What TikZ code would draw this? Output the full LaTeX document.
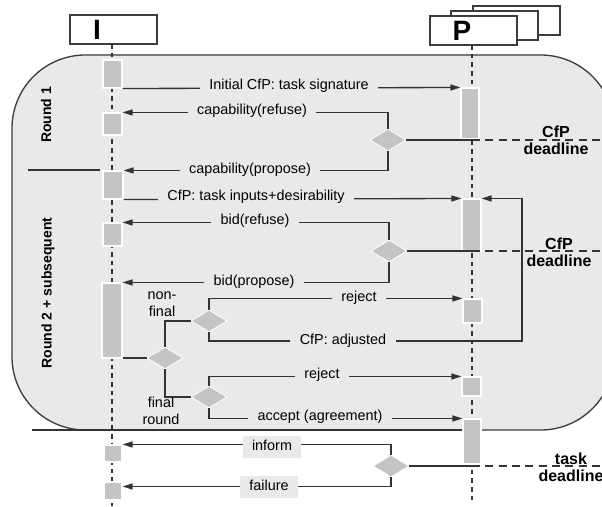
\documentclass[tikz,border=0pt]{standalone}
\usepackage{fontspec}
\setmainfont{Liberation Sans}
\usetikzlibrary{arrows.meta,shapes.geometric,fit}
\definecolor{bgc}{HTML}{E9E9E9}
\definecolor{linec}{HTML}{333333}
\definecolor{actc}{HTML}{C4C4C4}
\definecolor{borderc}{HTML}{3C3C3C}
\begin{document}
\begin{tikzpicture}[x=0.75pt,y=-0.75pt,
  roundbox/.style={draw=borderc, line width=1pt, fill=bgc, rounded corners=55pt, inner sep=0pt},
  headbox/.style={draw=borderc, line width=1pt, fill=white, inner sep=0pt},
  headtxt/.style={font=\bfseries\fontsize{21}{21}\selectfont, inner sep=0pt},
  life/.style={draw=linec, line width=0.8pt, dash pattern=on 3.5pt off 3pt},
  act/.style={draw=white, line width=0.8pt, fill=actc, inner sep=0pt},
  dec/.style={diamond, draw=white, line width=0.6pt, fill=actc, inner sep=0pt, minimum width=27pt, minimum height=16.5pt},
  flow/.style={draw=linec, line width=1pt},
  msg/.style={flow, -{Triangle[length=7.5pt,width=4.5pt]}},
  ddl/.style={draw=linec, line width=1pt, dash pattern=on 6pt off 4pt},
  lbl/.style={fill=bgc, inner xsep=7pt, inner ysep=3pt, text height=8pt, text depth=2.5pt, font=\fontsize{10.8}{12}\selectfont},
  note/.style={align=center, inner sep=0pt, font=\fontsize{10.8}{12.75}\selectfont},
  ddltxt/.style={align=center, inner sep=0pt, font=\bfseries\fontsize{12}{12.75}\selectfont},
  roundtxt/.style={rotate=90, inner sep=0pt, font=\bfseries\fontsize{10.5}{12}\selectfont}
]
\useasboundingbox (0,0) rectangle (602,506);
% rounds area
\node[roundbox, fit={(12,55) (614,430)}] (rounds) {};
\coordinate (sepA) at (28,170);
\coordinate (sepB) at (32,430);
\coordinate (R) at (602,0);
% heads
\node[headbox, fit={(70,15) (157,44)}] (Ibox) {};
\node[headtxt] (Ilbl) at (97,30) {I};
\node[headbox, fit={(473,6) (560,35)}] (P3) {};
\node[headbox, fit={(451,11) (538,40)}] (P2) {};
\node[headbox, fit={(430,16) (517,45)}] (P1) {};
\node[headtxt] (Plbl) at (462,31) {P};
% lifelines
\coordinate (Itop) at (112,44); \coordinate (Ibot) at (112,506);
\coordinate (Ptop) at (472,45); \coordinate (Pbot) at (472,500);
\draw[life] (Itop) -- (Ibot);
\draw[life] (Ptop) -- (Pbot);
% separators
\draw[flow] (sepA) -- (sepA -| 100,0);
\draw[flow] (sepB) -- (sepB -| Ptop);
% activations on I
\node[act, fit={(103,60) (122,88)}] (a1) {};
\node[act, fit={(103,113) (122,135)}] (a2) {};
\node[act, fit={(103,171) (123,199)}] (a3) {};
\node[act, fit={(103,223) (122,246)}] (a4) {};
\node[act, fit={(102,283) (122,358)}] (a5) {};
\node[act, fit={(104,445) (122,462)}] (a6) {};
\node[act, fit={(104,482) (122,500)}] (a7) {};
% activations on P
\node[act, fit={(461,88) (479,139)}] (b1) {};
\node[act, fit={(462,199) (481,251)}] (b2) {};
\node[act, fit={(463,299) (482,323)}] (b3) {};
\node[act, fit={(462,377) (481,396)}] (b4) {};
\node[act, fit={(463,419) (481,464)}] (b5) {};
% decisions
\node[dec] (d1) at (388,140) {};
\node[dec] (d2) at (389,251) {};
\node[dec] (d3) at (209,321) {};
\node[dec] (d4) at (165,358) {};
\node[dec] (d5) at (209,397) {};
\node[dec] (d6) at (391,466) {};
\coordinate (loop) at (522,341);
% connectors
\draw[msg] (a1.south east) -- (b1.north west);
\draw[msg] (d1.north) |- (a2.north east);
\draw[msg] (d1.south) |- (a3.north east);
\draw[flow] (d1.east) -- (d1 -| Ptop);
\draw[ddl] (d1 -| Ptop) -- (d1 -| R);
\draw[msg] (a3.south east) -- (b2.north west);
\draw[msg] (d2.north) |- (a4.north east);
\draw[msg] (d2.south) |- (a5.north east);
\draw[flow] (d2.east) -- (d2 -| Ptop);
\draw[ddl] (d2 -| Ptop) -- (d2 -| R);
\draw[flow] (d4.west -| a5.east) -- (d4.west);
\draw[flow] (d4.north) |- (d3.west);
\draw[flow] (d4.south) |- (d5.west);
\draw[msg] (d3.north) |- (b3.north west);
\draw[msg] (d3.south) |- (loop) |- (b2.north east);
\draw[msg] (d5.north) |- (b4.north west);
\draw[msg] (d5.south) |- (b5.north west);
\draw[msg] (d6.north) |- (a6.north east);
\draw[msg] (d6.south) |- ([yshift=-3.75pt]a7.north east);
\draw[flow] (d6.east) -- (d6 -| Ptop);
\draw[ddl] (d6 -| Ptop) -- (d6 -| R);
% message labels
\node[lbl] (l1) at (289,86) {Initial CfP: task signature};
\node[lbl] (l2) at (252,111) {capability(refuse)};
\node[lbl] (l3) at (250,170) {capability(propose)};
\node[lbl] (l4) at (256,197) {CfP: task inputs+desirability};
\node[lbl] (l5) at (255,221) {bid(refuse)};
\node[lbl] (l6) at (254,282) {bid(propose)};
\node[lbl] (l7) at (359,298) {reject};
\node[lbl] (l8) at (343,341) {CfP: adjusted};
\node[lbl] (l9) at (322,375) {reject};
\node[lbl] (l10) at (320,417) {accept (agreement)};
\node[lbl] (l11) at (272,447) {inform};
\node[lbl] (l12) at (269,487) {failure};
% notes
\node[note] (n1) at (162,304) {non-\\final};
\node[note] (n2) at (161,411) {final\\round};
\node[ddltxt] (t1) at (556,140) {CfP\\deadline};
\node[ddltxt] (t2) at (559,252) {CfP\\deadline};
\node[ddltxt] (t3) at (571,467) {task\\deadline};
\node[roundtxt] (r1) at (46,115) {Round 1};
\node[roundtxt] (r2) at (48,293) {Round 2 + subsequent};
\end{tikzpicture}
\end{document}
